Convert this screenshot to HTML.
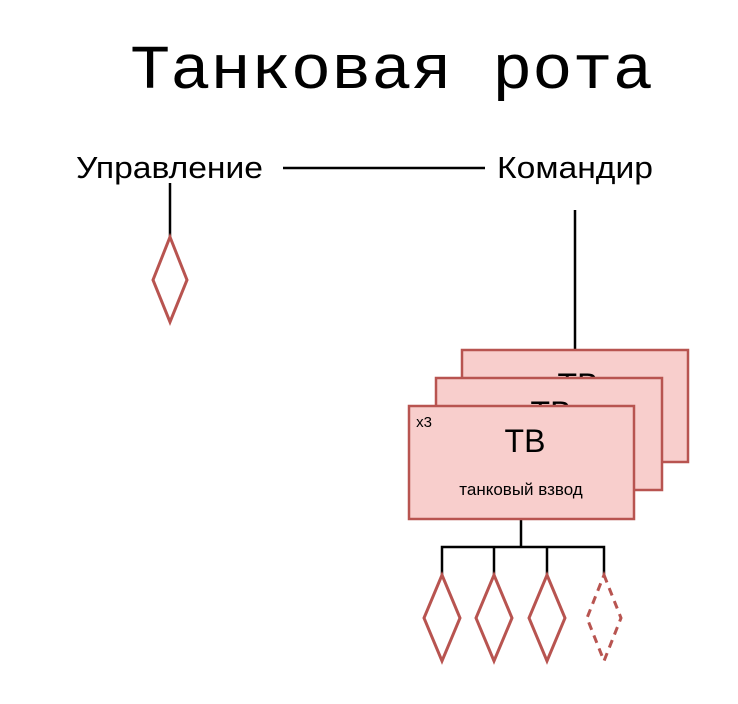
<!DOCTYPE html>
<html><head><meta charset="utf-8"><style>
body{margin:0;background:#fff;width:738px;height:699px;overflow:hidden}
</style></head><body>
<svg width="738" height="699" xmlns="http://www.w3.org/2000/svg">
<text x="130" y="88" textLength="523" lengthAdjust="spacingAndGlyphs" font-family="'Liberation Mono', monospace" font-weight="300" font-size="62">Танковая рота</text>
<text x="76" y="178" textLength="187" lengthAdjust="spacingAndGlyphs" font-family="'Liberation Sans', sans-serif" font-size="31">Управление</text>
<text x="497" y="178" textLength="156" lengthAdjust="spacingAndGlyphs" font-family="'Liberation Sans', sans-serif" font-size="31">Командир</text>
<g stroke="#000" stroke-width="2.5" fill="none">
<line x1="283" y1="168" x2="485" y2="168"/>
<line x1="170" y1="183" x2="170" y2="237"/>
<line x1="575" y1="210" x2="575" y2="350"/>
<line x1="521" y1="519" x2="521" y2="547"/>
<polyline points="442,575 442,547 604,547 604,575"/>
<line x1="494" y1="547" x2="494" y2="575"/>
<line x1="547" y1="547" x2="547" y2="575"/>
</g>
<g font-family="'Liberation Sans', sans-serif" text-anchor="middle">
<rect x="462" y="350" width="226" height="112" fill="#f8cecc" stroke="#b85450" stroke-width="2.5"/>
<text x="578" y="396" font-size="32">ТВ</text>
<rect x="436" y="378" width="226" height="112" fill="#f8cecc" stroke="#b85450" stroke-width="2.5"/>
<text x="551" y="424" font-size="32">ТВ</text>
<rect x="409" y="406" width="225" height="113" fill="#f8cecc" stroke="#b85450" stroke-width="2.5"/>
<text x="525" y="452" font-size="32">ТВ</text>
<text x="521" y="495" font-size="17">танковый взвод</text>
<text x="424" y="427" font-size="15">x3</text>
</g>
<g fill="none" stroke="#b85450" stroke-width="3">
<polygon points="170,237 187,280 170,322 153,280"/>
<polygon points="442,575 460,618 442,661 424,618"/>
<polygon points="494,575 512,618 494,661 476,618"/>
<polygon points="547,575 565,618 547,661 529,618"/>
<polygon points="604,575 621,618 604,661 587,618" stroke-dasharray="8,6"/>
</g>
</svg>
</body></html>
